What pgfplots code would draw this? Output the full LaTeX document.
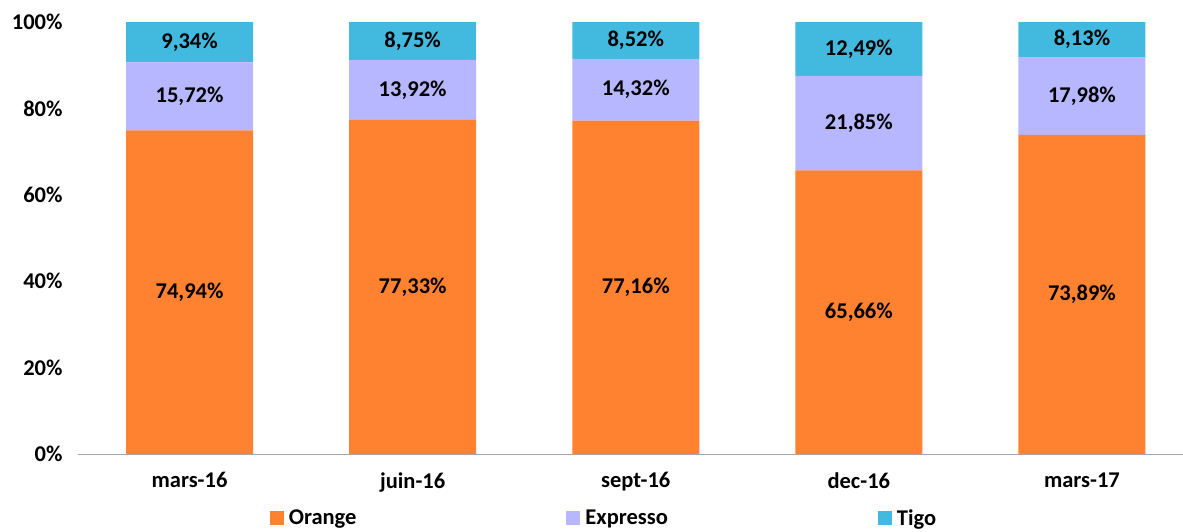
\documentclass[border=0pt]{standalone}
\usepackage{pgfplots}
\pgfplotsset{compat=1.18}
\usepackage{pgfplotstable}
\usepackage{fontspec}
\setmainfont{Carlito}
\definecolor{cOrange}{HTML}{FF8230}
\definecolor{cExpresso}{HTML}{B7B7FF}
\definecolor{cTigo}{HTML}{42B9DE}
\definecolor{axgray}{HTML}{A6A6A6}

\pgfplotstableread{
x o e t
0 74.94 15.72 9.34
1 77.33 13.92 8.75
2 77.16 14.32 8.52
3 65.66 21.85 12.49
4 73.89 17.98 8.13
}\datatab
\pgfplotstablecreatecol[expr={\thisrow{o}/2}]{mo}{\datatab}
\pgfplotstablecreatecol[expr={\thisrow{o}+\thisrow{e}/2}]{me}{\datatab}
\pgfplotstablecreatecol[expr={\thisrow{o}+\thisrow{e}+\thisrow{t}/2}]{mt}{\datatab}

\newcommand{\bigf}{\fontsize{22.5}{27}\selectfont\bfseries}
\pgfplotsset{
  common/.style={
    scale only axis,
    width=1105pt, height=432pt,
    xmin=-0.5, xmax=4.453,
    ymin=0, ymax=100,
  },
  lbl/.style={draw=none, mark=none, nodes near coords={\pgfmathprintnumber[fixed,fixed zerofill,precision=2,use comma,assume math mode=true]{\pgfplotspointmeta}\%},
    every node near coord/.append style={anchor=center, font=\bigf}},
}

\begin{document}
\begin{tikzpicture}
\useasboundingbox (-78pt,-77pt) rectangle (1105pt,454pt);
\begin{axis}[
  common,
  ybar stacked,
  bar width=127pt,
  xtick={0,1,2,3,4},
  xticklabels={mars-16,juin-16,sept-16,dec-16,mars-17},
  ytick={0,20,40,60,80,100},
  yticklabels={0\%,20\%,40\%,60\%,80\%,100\%},
  axis x line*=bottom, axis y line*=left,
  x axis line style={draw=axgray, line width=1pt},
  y axis line style={draw=none},
  major tick length=0pt,
  tick style={draw=none},
  tick label style={font=\bigf},
  yticklabel style={xshift=-12pt},
  xticklabel style={yshift=-15pt},
  legend style={draw=none, at={(0.476,-0.148)}, anchor=center,
    legend columns=-1, font=\bigf,
    /tikz/every even column/.append style={column sep=208pt},
    /tikz/every odd column/.append style={column sep=3pt},
    inner sep=0pt},
  legend image code/.code={\fill[#1] (0pt,-7pt) rectangle (14pt,7pt);},
]
\addplot[fill=cOrange, draw=none] table[x=x,y=o]{\datatab};
\addplot[fill=cExpresso, draw=none] table[x=x,y=e]{\datatab};
\addplot[fill=cTigo, draw=none] table[x=x,y=t]{\datatab};
\legend{Orange,Expresso,Tigo}
\end{axis}
\begin{axis}[common, hide axis, clip=false]
\addplot[lbl, point meta=\thisrow{o}] table[x=x,y=mo]{\datatab};
\addplot[lbl, point meta=\thisrow{e}] table[x=x,y=me]{\datatab};
\addplot[lbl, point meta=\thisrow{t}] table[x=x,y=mt]{\datatab};
\end{axis}
\end{tikzpicture}
\end{document}
